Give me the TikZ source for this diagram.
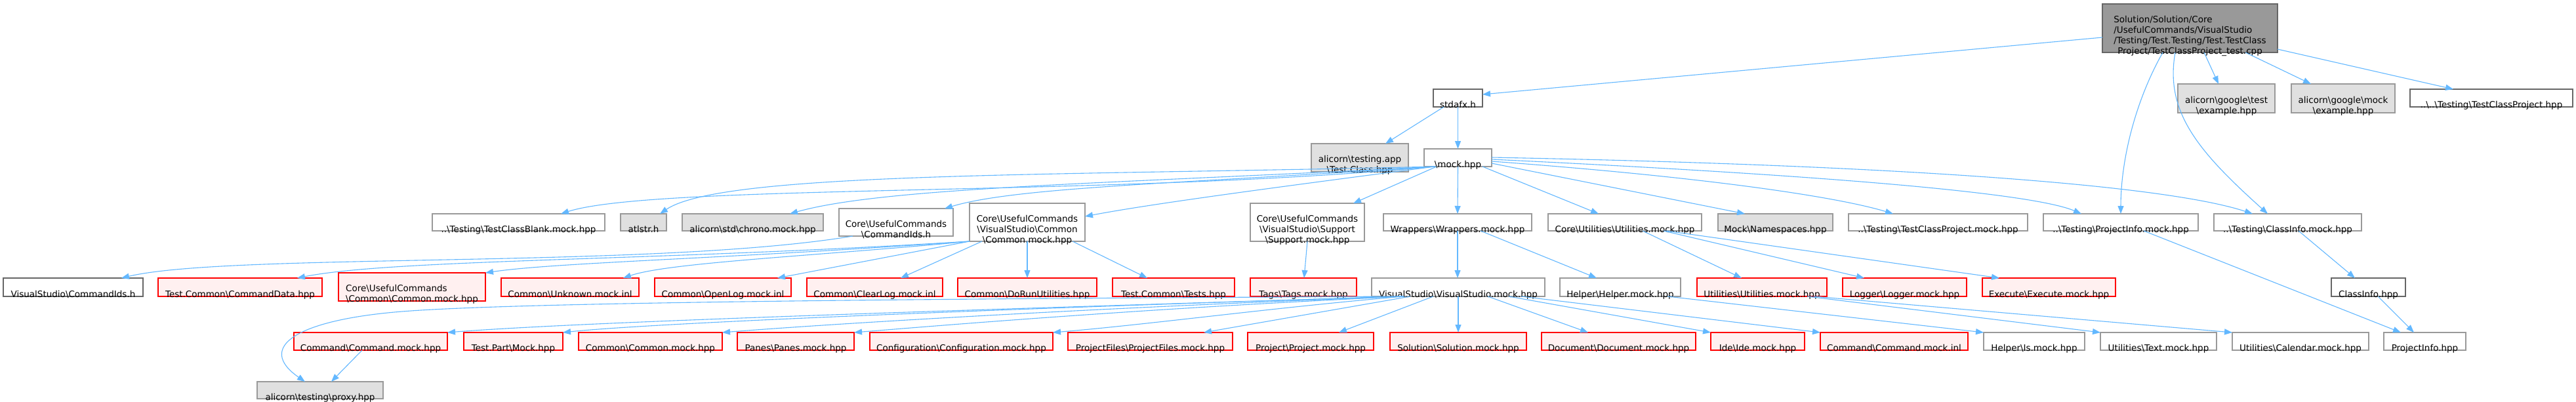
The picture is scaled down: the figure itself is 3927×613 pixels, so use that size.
\documentclass[tikz,border=0pt]{standalone}
\usepackage{fontspec}
\setmainfont{DejaVu Sans}
\usetikzlibrary{arrows.meta}
\definecolor{edgec}{HTML}{63B8FF}
\definecolor{gforty}{HTML}{666666}
\definecolor{gsixty}{HTML}{999999}
\definecolor{gfill}{HTML}{E0E0E0}
\definecolor{rfill}{HTML}{FFF0F0}
\newcommand\bk{\textbackslash}
\newcommand\dfont{\fontsize{13.5pt}{15.9pt}\selectfont}
\newcommand\mkbox[8]{%
 \pgfmathsetmacro\mkcx{(#3+#4)/2}%
 \pgfmathsetmacro\mkcy{(#5+#6)/2}%
 \pgfmathsetmacro\mkw{#4-#3}%
 \pgfmathsetmacro\mkh{#6-#5}%
 \node[#1,minimum width=\mkw pt,minimum height=\mkh pt] (#2) at (\mkcx,\mkcy) {\makebox[0pt]{\raisebox{-12pt}[\height][\depth]{\begin{tabular}{@{}#7@{}}#8\end{tabular}}}};%
}
\tikzset{
 box/.style={rectangle, inner sep=0pt, outer sep=0pt, line width=1.1pt, font=\dfont},
 wbox/.style={box, draw=gsixty, fill=white},
 dbox/.style={box, draw=gforty, fill=white},
 gbox/.style={box, draw=gsixty, fill=gfill},
 rbox/.style={box, draw=red, fill=rfill},
 rootbox/.style={box, draw=gforty, fill=gsixty},
 edge/.style={draw=edgec, line width=1.1pt, -{Triangle[length=12pt,width=9pt]}}
}
\begin{document}
\begin{tikzpicture}[x=1pt,y=-1pt]
\fill[white] (0,0) rectangle (3927,613);
\useasboundingbox (0,0) rectangle (3927,613);
% row 0/1
\mkbox{rootbox}{root}{3205}{3472}{6}{80}{l}{Solution/Solution/Core\\/UsefulCommands/VisualStudio\\/Testing/Test.Testing/Test.TestClass\\\multicolumn{1}{@{}c@{}}{Project/TestClassProject\_test.cpp}}
\mkbox{dbox}{stdafx}{2185}{2260}{136}{163}{c}{stdafx.h}
\mkbox{gbox}{gtest}{3320}{3468}{128}{172}{c}{alicorn\bk{}google\bk{}test\\\bk{}example.hpp}
\mkbox{gbox}{gmock}{3493}{3651}{128}{172}{c}{alicorn\bk{}google\bk{}mock\\\bk{}example.hpp}
\mkbox{dbox}{tcp}{3674}{3922}{136}{163}{c}{..\bk{}..\bk{}Testing\bk{}TestClassProject.hpp}
\mkbox{gbox}{testapp}{1999}{2147}{219}{262}{c}{alicorn\bk{}testing.app\\\bk{}Test.Class.hpp}
\mkbox{wbox}{mock}{2171}{2274}{227}{254}{c}{\bk{}mock.hpp}
% row 2
\mkbox{wbox}{blank}{659}{922}{326}{352}{c}{..\bk{}Testing\bk{}TestClassBlank.mock.hpp}
\mkbox{gbox}{atlstr}{946}{1016}{326}{352}{c}{atlstr.h}
\mkbox{gbox}{chrono}{1040}{1255}{326}{352}{c}{alicorn\bk{}std\bk{}chrono.mock.hpp}
\mkbox{wbox}{cmdids}{1279}{1453}{318}{360}{c}{Core\bk{}UsefulCommands\\\bk{}CommandIds.h}
\mkbox{wbox}{vscommon}{1478}{1654}{310}{368}{c}{Core\bk{}UsefulCommands\\\bk{}VisualStudio\bk{}Common\\\bk{}Common.mock.hpp}
\mkbox{wbox}{support}{1906}{2080}{310}{368}{c}{Core\bk{}UsefulCommands\\\bk{}VisualStudio\bk{}Support\\\bk{}Support.mock.hpp}
\mkbox{wbox}{wrappers}{2109}{2335}{326}{352}{c}{Wrappers\bk{}Wrappers.mock.hpp}
\mkbox{wbox}{coreutil}{2360}{2594}{326}{352}{c}{Core\bk{}Utilities\bk{}Utilities.mock.hpp}
\mkbox{gbox}{namespaces}{2619}{2794}{326}{352}{c}{Mock\bk{}Namespaces.hpp}
\mkbox{wbox}{tcpmock}{2818}{3091}{326}{352}{c}{..\bk{}Testing\bk{}TestClassProject.mock.hpp}
\mkbox{wbox}{pimock}{3115}{3351}{326}{352}{c}{..\bk{}Testing\bk{}ProjectInfo.mock.hpp}
\mkbox{wbox}{cimock}{3375}{3600}{326}{352}{c}{..\bk{}Testing\bk{}ClassInfo.mock.hpp}
% row 3
\mkbox{dbox}{vsids}{5}{218}{424}{452}{c}{VisualStudio\bk{}CommandIds.h}
\mkbox{rbox}{cmddata}{241}{491}{424}{452}{c}{Test.Common\bk{}CommandData.hpp}
\mkbox{rbox}{ccommon}{516}{740}{416}{459}{l}{Core\bk{}UsefulCommands\\\bk{}Common\bk{}Common.mock.hpp}
\mkbox{rbox}{unknown}{764}{974}{424}{452}{c}{Common\bk{}Unknown.mock.inl}
\mkbox{rbox}{openlog}{998}{1206}{424}{452}{c}{Common\bk{}OpenLog.mock.inl}
\mkbox{rbox}{clearlog}{1230}{1437}{424}{452}{c}{Common\bk{}ClearLog.mock.inl}
\mkbox{rbox}{dorun}{1460}{1672}{424}{452}{c}{Common\bk{}DoRunUtilities.hpp}
\mkbox{rbox}{tests}{1696}{1882}{424}{452}{c}{Test.Common\bk{}Tests.hpp}
\mkbox{rbox}{tags}{1906}{2068}{424}{452}{c}{Tags\bk{}Tags.mock.hpp}
\mkbox{wbox}{vs}{2091}{2355}{424}{452}{c}{VisualStudio\bk{}VisualStudio.mock.hpp}
\mkbox{wbox}{helper}{2378}{2562}{424}{452}{c}{Helper\bk{}Helper.mock.hpp}
\mkbox{rbox}{utilities}{2587}{2785}{424}{452}{c}{Utilities\bk{}Utilities.mock.hpp}
\mkbox{rbox}{logger}{2809}{2998}{424}{452}{c}{Logger\bk{}Logger.mock.hpp}
\mkbox{rbox}{execute}{3022}{3225}{424}{452}{c}{Execute\bk{}Execute.mock.hpp}
\mkbox{dbox}{classinfo}{3554}{3667}{424}{452}{c}{ClassInfo.hpp}
% row 4
\mkbox{rbox}{cmdmock}{448}{682}{507}{534}{c}{Command\bk{}Command.mock.hpp}
\mkbox{rbox}{testpart}{707}{858}{507}{534}{c}{Test.Part\bk{}Mock.hpp}
\mkbox{rbox}{common}{882}{1101}{507}{534}{c}{Common\bk{}Common.mock.hpp}
\mkbox{rbox}{panes}{1124}{1302}{507}{534}{c}{Panes\bk{}Panes.mock.hpp}
\mkbox{rbox}{config}{1326}{1605}{507}{534}{c}{Configuration\bk{}Configuration.mock.hpp}
\mkbox{rbox}{pfiles}{1628}{1879}{507}{534}{c}{ProjectFiles\bk{}ProjectFiles.mock.hpp}
\mkbox{rbox}{project}{1902}{2094}{507}{534}{c}{Project\bk{}Project.mock.hpp}
\mkbox{rbox}{solution}{2119}{2327}{507}{534}{c}{Solution\bk{}Solution.mock.hpp}
\mkbox{rbox}{document}{2350}{2585}{507}{534}{c}{Document\bk{}Document.mock.hpp}
\mkbox{rbox}{ide}{2608}{2751}{507}{534}{c}{Ide\bk{}Ide.mock.hpp}
\mkbox{rbox}{cmdinl}{2775}{3000}{507}{534}{c}{Command\bk{}Command.mock.inl}
\mkbox{wbox}{ismock}{3024}{3178}{507}{534}{c}{Helper\bk{}Is.mock.hpp}
\mkbox{wbox}{tmock}{3202}{3379}{507}{534}{c}{Utilities\bk{}Text.mock.hpp}
\mkbox{wbox}{calendar}{3403}{3611}{507}{534}{c}{Utilities\bk{}Calendar.mock.hpp}
\mkbox{wbox}{projectinfo}{3634}{3759}{507}{534}{c}{ProjectInfo.hpp}
% row 5
\mkbox{gbox}{proxy}{392}{584}{582}{608}{c}{alicorn\bk{}testing\bk{}proxy.hpp}
% ---- edges: root
\draw[edge] (root.west |- 0,57) -- (stdafx.east |- 0,144);
\draw[edge] (3360,0 |- root.south) -- (3382,0 |- gtest.north);
\draw[edge] (3423,0 |- root.south) -- (3523,0 |- gmock.north);
\draw[edge] (root.east |- 0,75) -- (3740,0 |- tcp.north);
\draw[edge] (3297,0 |- root.south) .. controls (3252,160) and (3233,250) .. (3233,0 |- pimock.north);
\draw[edge] (3316,0 |- root.south) .. controls (3300,170) and (3350,230) .. (3457,0 |- cimock.north);
% stdafx
\draw[edge] (2201,0 |- stdafx.south) -- (2112,0 |- testapp.north);
\draw[edge] (stdafx.south) -- (mock.north);
% mock
\draw[edge] (2187,0 |- mock.south) .. controls (1700,300) and (1000,280) .. (855,0 |- blank.north);
\draw[edge] (2187,0 |- mock.south) .. controls (1600,268) and (1100,262) .. (1006,0 |- atlstr.north);
\draw[edge] (2187,0 |- mock.south) .. controls (1700,280) and (1350,285) .. (1204,0 |- chrono.north);
\draw[edge] (2187,0 |- mock.south) .. controls (1800,280) and (1550,285) .. (1440,0 |- cmdids.north);
\draw[edge] (2187,0 |- mock.south) .. controls (1950,285) and (1760,310) .. (vscommon.east |- 0,330);
\draw[edge] (2190,0 |- mock.south) -- (2063,0 |- support.north);
\draw[edge] (mock.south) -- (wrappers.north);
\draw[edge] (2260,0 |- mock.south) -- (2437,0 |- coreutil.north);
\draw[edge] (mock.east |- 0,249) -- (2660,0 |- namespaces.north);
\draw[edge] (mock.east |- 0,246) .. controls (2600,270) and (2800,300) .. (2886,0 |- tcpmock.north);
\draw[edge] (mock.east |- 0,243) .. controls (2800,268) and (3100,295) .. (3173,0 |- pimock.north);
\draw[edge] (mock.east |- 0,240) .. controls (2900,252) and (3300,282) .. (3434,0 |- cimock.north);
% cmdids
\draw[edge] (1300,0 |- cmdids.south) .. controls (1000,410) and (350,385) .. (185,0 |- vsids.north);
% vscommon
\draw[edge] (vscommon.south west) .. controls (1000,398) and (600,395) .. (453,0 |- cmddata.north);
\draw[edge] (vscommon.south west) .. controls (1100,395) and (850,400) .. (ccommon.north east);
\draw[edge] (vscommon.south west) .. controls (1250,390) and (1020,400) .. (950,0 |- unknown.north);
\draw[edge] (vscommon.south west) -- (1185,0 |- openlog.north);
\draw[edge] (1497,0 |- vscommon.south) -- (1373,0 |- clearlog.north);
\draw[edge] (vscommon.south) -- (dorun.north);
\draw[edge] (1635,0 |- vscommon.south) -- (1749,0 |- tests.north);
% support
\draw[edge] (support.south) -- (1988,0 |- tags.north);
% wrappers
\draw[edge] (wrappers.south) -- (2222,0 |- vs.north);
\draw[edge] (2257,0 |- wrappers.south) -- (2434,0 |- helper.north);
% coreutil
\draw[edge] (2504,0 |- coreutil.south) -- (2655,0 |- utilities.north);
\draw[edge] (2536,0 |- coreutil.south) -- (2842,0 |- logger.north);
\draw[edge] (2540,0 |- coreutil.south) -- (3048,0 |- execute.north);
% vs
\draw[edge] (2140,0 |- vs.south) .. controls (1500,455) and (800,460) .. (613,475) .. controls (450,488) and (390,530) .. (465,0 |- proxy.north);
\draw[edge] (2140,0 |- vs.south) .. controls (1500,472) and (900,490) .. (cmdmock.north east);
\draw[edge] (2140,0 |- vs.south) .. controls (1550,470) and (1000,492) .. (testpart.north east);
\draw[edge] (2140,0 |- vs.south) .. controls (1650,470) and (1250,495) .. (common.north east);
\draw[edge] (2140,0 |- vs.south) .. controls (1750,470) and (1450,495) .. (panes.north east);
\draw[edge] (2140,0 |- vs.south) .. controls (1950,468) and (1750,495) .. (config.north east);
\draw[edge] (2150,0 |- vs.south) -- (1835,0 |- pfiles.north);
\draw[edge] (2185,0 |- vs.south) -- (2041,0 |- project.north);
\draw[edge] (vs.south) -- (solution.north);
\draw[edge] (2268,0 |- vs.south) -- (2421,0 |- document.north);
\draw[edge] (2300,0 |- vs.south) -- (ide.north west);
\draw[edge] (2319,0 |- vs.south) -- (cmdinl.north west);
% cmdmock
\draw[edge] (552,0 |- cmdmock.south) -- (505,0 |- proxy.north);
% helper / utilities
\draw[edge] (2542,0 |- helper.south) -- (ismock.north west);
\draw[edge] (2755,0 |- utilities.south) -- (tmock.north west);
\draw[edge] (2765,0 |- utilities.south) -- (calendar.north west);
% info
\draw[edge] (3268,0 |- pimock.south) -- (3660,0 |- projectinfo.north);
\draw[edge] (3504,0 |- cimock.south) -- (3590,0 |- classinfo.north);
\draw[edge] (3625,0 |- classinfo.south) -- (3680,0 |- projectinfo.north);
\end{tikzpicture}
\end{document}
